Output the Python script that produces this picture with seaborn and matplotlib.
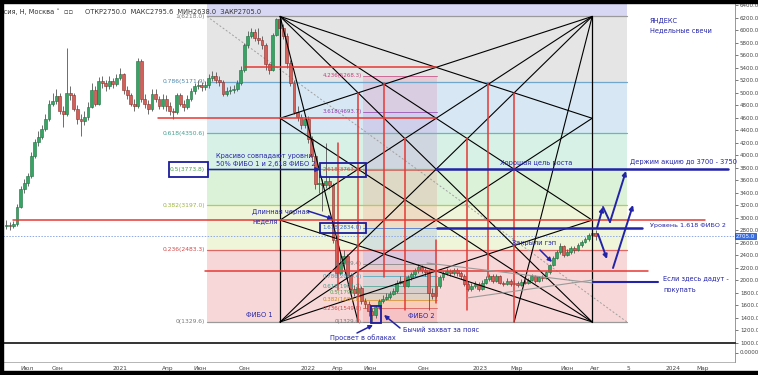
import numpy as np
import pandas as pd
import matplotlib
matplotlib.use("Agg")
import matplotlib.pyplot as plt
import seaborn as sns
from matplotlib.patches import Rectangle

sns.set_theme(style="white")
plt.rcParams['font.family'] = ['DejaVu Sans']

# ---------------- data (weekly candles, YNDX) ----------------
first_week = -32          # week index relative to 2021-01-01
first_open = 2870
closes = [2880,2860,2890,3170,3450,3560,3660,3980,4210,4290,4420,4580,4820,4870,4940,4710,
          4660,4990,4955,4745,4580,4550,4610,4776,5035,4825,5180,5150,5100,5180,5130,5230,
          5290,5035,4955,4825,4790,5505,4905,4825,4744,4985,
          4905,4790,4905,4790,4710,4695,4955,4825,4775,4905,
          5020,5100,5115,5085,5115,5230,5260,5200,5165,4985,
          5020,5035,5065,5150,5360,5760,5910,5970,5875,5845,
          5760,5455,5360,5925,6170,6040,5910,5470,5150,4695,
          4610,4485,4580,4258,3985,3530,3560,3515,3580,3515,
          2640,2107,2268,2382,2074,1864,1800,1880,1670,1620,
          1508,1443,1572,1669,1702,1734,1783,1831,1961,1993,
          1912,2042,2090,2155,2203,2155,2123,1800,1750,1912,
          2042,2107,2139,2107,2155,2107,2058,1945,1864,1912,
          1945,1864,1961,2025,2058,1993,2058,1961,1945,1993,
          1945,1961,1928,1977,1961,2009,2058,1993,2042,2030,
          2123,2236,2349,2446,2543,2398,2446,2511,2478,2559,
          2608,2656,2721,2750,2705]
highs = [2960,2930,2950,3220,3500,3620,3720,4050,4260,4380,4480,4650,4880,5000,5050,5000,
         4790,5720,5100,5000,4800,4650,4700,4850,5150,5100,5250,5260,5200,5260,5230,5300,
         5400,5320,5100,5000,4900,5560,5530,4980,4880,5050,
         5060,4950,4980,4960,4850,4760,5000,5000,4880,4960,
         5080,5160,5200,5170,5180,5300,5350,5330,5260,5200,
         5090,5100,5120,5200,5420,5800,5990,6040,6020,6040,
         5900,5800,5480,5960,6200,6218,6100,5950,5520,5200,
         4780,4660,4640,4620,4300,4020,3700,3620,4200,3650,
         3560,2700,2450,2480,2420,2120,1920,1950,1900,1720,
         1660,1560,1600,1700,1760,1790,1830,1880,2000,2060,
         2030,2080,2130,2200,2260,2240,2200,2160,1880,1950,
         2080,2150,2190,2180,2200,2190,2140,2090,1980,1950,
         1990,1970,2000,2070,2100,2090,2090,2080,1990,2030,
         2010,2000,1990,2010,2000,2040,2090,2080,2070,2080,
         2150,2260,2380,2480,2600,2560,2490,2550,2540,2590,
         2640,2690,2760,2800,2795.6]
lows = [2820,2800,2830,2870,3150,3400,3500,3640,3950,4150,4250,4380,4550,4780,4820,4650,
        4450,4620,4880,4700,4500,4300,4480,4560,4750,4780,4800,5080,5020,5050,5080,5100,
        5200,4980,4900,4780,4700,4760,4850,4760,4650,4700,
        4850,4730,4740,4700,4640,4580,4650,4780,4700,4740,
        4860,4980,5050,5030,5040,5080,5180,5150,5100,4940,
        4950,4970,5000,5020,5120,5330,5720,5870,5820,5780,
        5700,5360,5300,5340,5900,5980,5850,5400,5100,4650,
        4550,4420,4440,4200,3900,3450,3400,3100,3480,3450,
        2600,2050,2080,2200,2000,1800,1740,1760,1620,1560,
        1420,1330,1400,1540,1640,1680,1700,1760,1800,1930,
        1870,1890,2000,2060,2120,2110,2060,1520,1700,1720,
        1880,2000,2080,2060,2080,2070,2020,1900,1820,1830,
        1880,1830,1840,1930,1990,1960,1970,1930,1900,1920,
        1910,1920,1890,1900,1930,1940,1990,1960,1970,1990,
        2010,2100,2220,2330,2420,2370,2380,2420,2440,2460,
        2530,2590,2630,2700,2638]

# x-axis tick labels (week positions) and right axis
tick_weeks = [-26.2, -17.7, 0, 13.5, 22.5, 35.2, 53, 61.4, 70.4, 85.4, 101.4, 111.8, 125.9, 133.8, 143.1, 155.8, 164]
tick_labels = ["Июл", "Сен", "2021", "Апр", "Июн", "Сен", "2022", "Апр", "Июн", "Сен", "2023", "Мар", "Июн", "Авг", "5", "2024", "Мар"]
price_ticks = list(range(1000, 6401, 200))

# Fibonacci 1
fib1_low, fib1_high = 1329.6, 6218.0
fib1_ratios = [0, 0.236, 0.382, 0.5, 0.618, 0.786, 1]
fib1_x = (24.5, 142.8)
# Fibonacci 2 (extension)
fib2_base, fib2_unit = 1329.6, 929.81
fib2_ratios = [0, 0.236, 0.382, 0.5, 0.618, 0.786, 1, 1.618, 2.618, 3.618, 4.236]
fib2_x = (68.5, 89.3)
# Gann box
gann_x = (45.1, 133.0)
gann_y = (1329.6, 6218.0)
# red levels: (price, x0, x1)
red_levels = [(5403.2, 35.2, 89.0), (4588.5, 10.7, 89.0), (2959.1, -30.1, 164.8), (2144.3, 23.9, 148.7)]
# red verticals: (week, top price, bottom price)
red_verticals = [(61.4, 4190, 1840), (67.0, 4990, 1330), (74.4, 5150, 2050), (80.3, 4270, 1520),
                 (89.0, 2640, 1630), (97.7, 4270, 1520), (103.7, 5150, 2050), (111.0, 4990, 1330)]
last_price = 2705.0

# ---------------- helpers (layout only: pixel -> data) ----------------
def pw(x):
    return (x - 120) / 3.55

def pp(y):
    return 2705 + (236 - y) * 16.0

W, H = 758, 375
fig = plt.figure(figsize=(W / 100, H / 100), dpi=100)
fig.patch.set_facecolor("white")
ax = fig.add_axes([3 / W, (H - 343) / H, 732 / W, 340 / H])
ax.set_xlim(pw(3), pw(735))
ax.set_ylim(pp(343), pp(3))
ax.set_facecolor("white")

BLUE = "#2323a8"
RED = "#e53935"

# ---- Fib 1 bands
band_cols = ["#f7d7d7", "#eef5d9", "#dbf2d8", "#d8f1e7", "#d7e8f4", "#e5e5e5"]
line_cols = ["#9a9a9a", "#e06666", "#b3cc55", "#6cbf6c", "#5fbfae", "#6fa8cc", "#9a9a9a"]
lab_cols = ["#7a7a7a", "#d24a4a", "#9ab53a", "#4c9f4c", "#3f9f8f", "#4a88b0", "#7a7a7a"]
lv1 = [fib1_low + r * (fib1_high - fib1_low) for r in fib1_ratios]
for i in range(len(lv1) - 1):
    ax.fill_between(fib1_x, lv1[i], lv1[i + 1], color=band_cols[i], lw=0, zorder=0)
ax.fill_between(fib1_x, lv1[-1], fib1_low + 1.618 * (fib1_high - fib1_low), color="#d7d7f4", lw=0, zorder=0)
for r, v, c, lc in zip(fib1_ratios, lv1, line_cols, lab_cols):
    ax.plot(fib1_x, [v, v], color=c, lw=0.9, zorder=1)
    ax.text(fib1_x[0] - 0.5, v, f"{r:g}({v:.1f})", color=lc, fontsize=4.3, ha="right", va="center", zorder=6)
ax.plot([fib1_x[0], fib1_x[1]], [fib1_high, fib1_low], color="#a0a0a0", lw=0.7, ls=(0, (2, 2)), zorder=1)

# ---- Fib 2 bands
f2cols = ["#f23645", "#ff9800", "#4caf50", "#089981", "#00bcd4", "#787b86", "#2962ff", "#f23645", "#9c27b0", "#e91e63"]
lv2 = [fib2_base + r * fib2_unit for r in fib2_ratios]
for i in range(len(lv2) - 1):
    ax.fill_between(fib2_x, lv2[i], lv2[i + 1], color=f2cols[i], alpha=0.13, lw=0, zorder=0.5)
f2lab = ["#777777", "#d24a4a", "#d08a20", "#4c9f4c", "#3f9f8f", "#3aa0b8", "#777777", "#3060d0", "#d24a4a", "#8e3aa8", "#c2407a"]
for r, v, c in zip(fib2_ratios, lv2, f2lab):
    ax.plot(fib2_x, [v, v], color=c, lw=0.7, alpha=0.7, zorder=1)
    ax.text(fib2_x[0] - 0.4, v, f"{r:g}({v:.1f})", color=c, fontsize=4.0, ha="right", va="center", zorder=6)

# ---- current price dotted line
ax.axhline(last_price, color="#8fa8e8", lw=0.7, ls=(0, (1.5, 1.5)), zorder=1)

# ---- candles
n = len(closes)
weeks = np.arange(first_week, first_week + n)
opens = [first_open] + closes[:-1]
df = pd.DataFrame({"week": weeks, "open": opens, "high": highs, "low": lows, "close": closes})
df["up"] = df["close"] >= df["open"]
for up, body, edge in [(True, "#35a465", "#1f6e3d"), (False, "#d4605a", "#8c2e2a")]:
    d = df[df["up"] == up]
    ax.vlines(d["week"], d["low"], d["high"], color="#555555", lw=0.6, zorder=2)
    ax.bar(d["week"], (d["close"] - d["open"]).abs().clip(lower=12), bottom=d[["open", "close"]].min(axis=1),
           width=0.8, color=body, edgecolor=edge, lw=0.4, zorder=3)

# ---- Gann box lines
gx0, gx1 = gann_x
gw = gx1 - gx0
lvls = [gann_y[0] + k * (gann_y[1] - gann_y[0]) / 3 for k in range(4)]
pairs = [(3, 0), (3, 1), (3, 2), (0, 1), (0, 2), (0, 3), (1, 0), (2, 0), (1, 3), (2, 3)]
for a, b in pairs:
    ax.plot([gx0, gx1], [lvls[a], lvls[b]], color="black", lw=0.8, zorder=4)
ax.plot([gx0, gx0], [lvls[0], lvls[3]], color="black", lw=0.9, zorder=4)
ax.plot([gx1, gx1], [lvls[0], lvls[3]], color="black", lw=0.9, zorder=4)
# steep fan lines from the top corners to the quarter points of the bottom
ax.plot([gx0, gx0 + gw / 4], [lvls[3], lvls[0]], color="black", lw=0.8, zorder=4)
ax.plot([gx1, gx1 - gw / 4], [lvls[3], lvls[0]], color="black", lw=0.8, zorder=4)

# ---- red levels / verticals
for v, x0, x1 in red_levels:
    ax.plot([x0, x1], [v, v], color=RED, lw=1.1, zorder=4)
for x, y0, y1 in red_verticals:
    ax.plot([x, x], [y0, y1], color=RED, lw=1.1, zorder=4)

# ---- triangle (gray)
ax.plot([pw(427), pw(593)], [pp(263), pp(283)], color="#9a9a9a", lw=0.8, zorder=4)
ax.plot([pw(467), pw(593)], [pp(298), pp(280)], color="#9a9a9a", lw=0.8, zorder=4)

# ---- blue lines
ax.plot([pw(436), pw(728)], [lv1[3], lv1[3]], color=BLUE, lw=1.8, zorder=5)
ax.plot([pw(437), pw(642)], [lv2[7], lv2[7]], color=BLUE, lw=1.8, zorder=5)
ax.plot([pw(593), pw(658)], [pp(282), pp(282)], color=BLUE, lw=1.5, zorder=5)

def box(x0, y0, x1, y1):
    ax.add_patch(Rectangle((pw(x0), pp(y1)), pw(x1) - pw(x0), pp(y0) - pp(y1), fill=False,
                           edgecolor="#1c1c9c", lw=1.3, zorder=6))

box(169, 162, 208, 177)
box(320, 163, 366, 177)
box(320, 223, 366, 233)
box(371, 306, 381, 323)

def arrow(x0, y0, x1, y1, head=True, lw=1.1):
    ax.annotate("", xy=(pw(x1), pp(y1)), xytext=(pw(x0), pp(y0)),
                arrowprops=dict(arrowstyle="-|>" if head else "-", color=BLUE, lw=lw,
                                mutation_scale=6, shrinkA=0, shrinkB=0), zorder=7)

arrow(208, 169.5, 320, 169.5)
arrow(308, 211, 333, 219)
arrow(540, 250, 552, 262)
arrow(357, 333, 373, 325)
arrow(400, 328, 384, 315)
arrow(597, 228, 603, 207, lw=1.4)
arrow(603, 207, 610, 222, head=False, lw=1.4)
arrow(610, 222, 626, 171, lw=1.4)
arrow(598, 234, 607, 259, lw=1.4)
arrow(613, 268, 633, 205, lw=1.4)

def txt(x, y, s, size=4.8, color=BLUE, **kw):
    ax.text(pw(x), pp(y), s, fontsize=size, color=color, va="center", ha="left", zorder=8, **kw)

txt(650, 21, "ЯНДЕКС")
txt(650, 30, "Недельные свечи")
txt(630, 162, "Держим акцию до 3700 - 3750")
txt(500, 163, "Хорошая цель роста")
txt(650, 226, "Уровень 1.618 ФИБО 2", size=4.6)
txt(663, 279, "Если здесь дадут -")
txt(663, 290, "покупать")
txt(216, 156, "Красиво совпадают уровни")
txt(216, 164, "50% ФИБО 1 и 2,618 ФИБО 2")
txt(252, 212, "Длинная черная")
txt(252, 221, "неделя")
txt(512, 243, "Закрыли гэп")
txt(246, 315, "ФИБО 1")
txt(408, 316, "ФИБО 2")
txt(330, 338, "Просвет в облаках")
txt(403, 330, "Бычий захват за пояс")

# header
txt(0, 12, "ссия, Н, Москва ˅  ▫▫", size=4.8, color="#333333")
txt(85, 12, "ОТКР2750.0  МАКС2795.6  МИН2638.0  ЗАКР2705.0", size=4.8, color="#333333")

# right axis
ax.yaxis.tick_right()
ax.set_yticks(price_ticks)
ax.set_yticklabels([f"{p:.1f}" for p in price_ticks])
ax.tick_params(axis="y", labelsize=4.0, colors="#444444", length=2, width=0.5, pad=1.5)
ax.set_xticks([])
for s in ["left", "top", "bottom"]:
    ax.spines[s].set_visible(False)
ax.spines["right"].set_color("#888888")
ax.spines["right"].set_linewidth(0.6)
ax.text(1.0015, last_price, f"{last_price:.1f}", transform=ax.get_yaxis_transform(), fontsize=4.0,
        color="white", va="center", ha="left", zorder=9,
        bbox=dict(boxstyle="square,pad=0.15", fc="#3b6fe0", ec="#1f3fa0", lw=0.5), clip_on=False)

# lower pane
ax2 = fig.add_axes([3 / W, (H - 362) / H, 732 / W, 19 / H])
ax2.set_xlim(ax.get_xlim())
ax2.set_ylim(-1, 1)
ax2.yaxis.tick_right()
ax2.set_yticks([0])
ax2.set_yticklabels(["0.0000"])
ax2.tick_params(axis="y", labelsize=4.0, colors="#444444", length=2, width=0.5, pad=1.5)
ax2.set_xticks(tick_weeks)
ax2.set_xticklabels(tick_labels)
ax2.tick_params(axis="x", labelsize=4.2, colors="#444444", length=1.5, width=0.5, pad=1.5)
ax2.spines["top"].set_color("#333333")
ax2.spines["top"].set_linewidth(1.4)
ax2.spines["left"].set_visible(False)
ax2.spines["bottom"].set_color("#999999")
ax2.spines["bottom"].set_linewidth(0.5)
ax2.spines["right"].set_color("#888888")
ax2.spines["right"].set_linewidth(0.6)

# black frame strips
fig.patches.append(Rectangle((0, 0), 3 / W, 1, transform=fig.transFigure, color="black", zorder=10))
fig.patches.append(Rectangle((0, 0), 1, 4 / H, transform=fig.transFigure, color="black", zorder=10))
fig.patches.append(Rectangle((0, 1 - 3 / H), 1, 3 / H, transform=fig.transFigure, color="black", zorder=10))

fig.savefig("out.png", dpi=100)
